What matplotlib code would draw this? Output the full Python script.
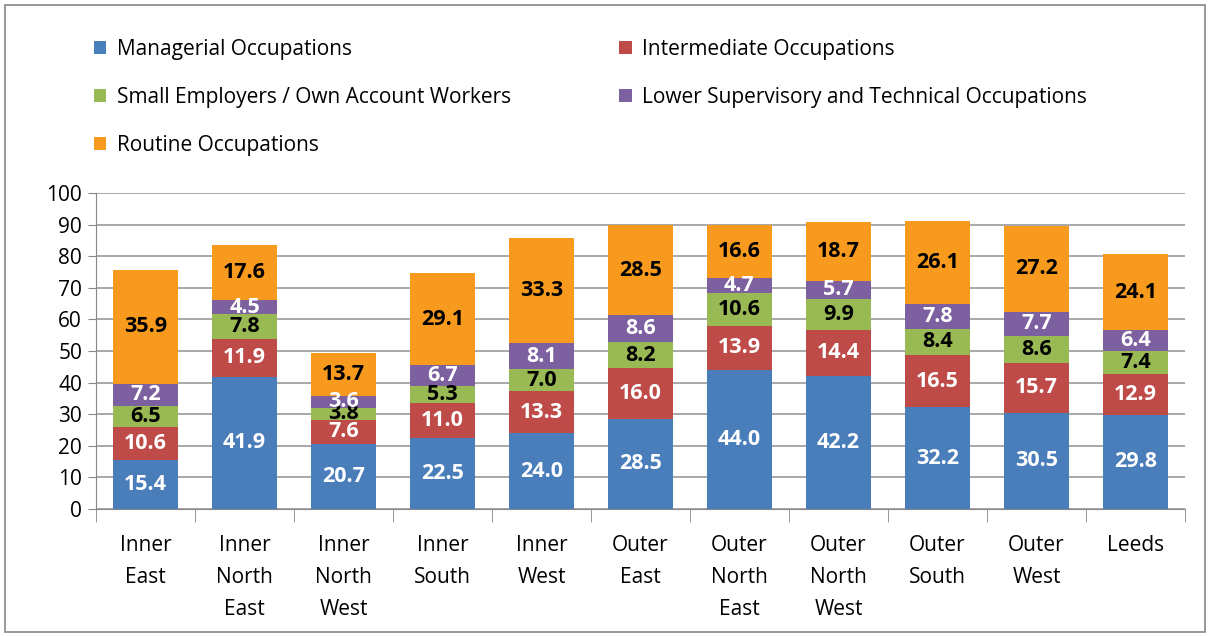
import matplotlib
matplotlib.use("Agg")
import matplotlib.pyplot as plt
from matplotlib.patches import Patch, Rectangle
import numpy as np

plt.rcParams['font.family'] = ['Open Sans', 'DejaVu Sans']

categories = ["Inner\nEast", "Inner\nNorth\nEast", "Inner\nNorth\nWest", "Inner\nSouth",
              "Inner\nWest", "Outer\nEast", "Outer\nNorth\nEast", "Outer\nNorth\nWest",
              "Outer\nSouth", "Outer\nWest", "Leeds"]
series_names = ["Managerial Occupations", "Intermediate Occupations",
                "Small Employers / Own Account Workers",
                "Lower Supervisory and Technical Occupations", "Routine Occupations"]
managerial = [15.4, 41.9, 20.7, 22.5, 24.0, 28.5, 44.0, 42.2, 32.2, 30.5, 29.8]
intermediate = [10.6, 11.9, 7.6, 11.0, 13.3, 16.0, 13.9, 14.4, 16.5, 15.7, 12.9]
small_employers = [6.5, 7.8, 3.8, 5.3, 7.0, 8.2, 10.6, 9.9, 8.4, 8.6, 7.4]
lower_supervisory = [7.2, 4.5, 3.6, 6.7, 8.1, 8.6, 4.7, 5.7, 7.8, 7.7, 6.4]
routine = [35.9, 17.6, 13.7, 29.1, 33.3, 28.5, 16.6, 18.7, 26.1, 27.2, 24.1]

series = [managerial, intermediate, small_employers, lower_supervisory, routine]
colors = ["#4A7EBB", "#BE4B48", "#98B954", "#7D60A0", "#F79A1E"]
label_colors = ["white", "white", "black", "white", "black"]

fig = plt.figure(figsize=(12.1, 6.37), dpi=100)
ax = fig.add_axes([96/1210, 1-509/637, (1185-96)/1210, (509-193)/637])

x = np.arange(len(categories))
bottom = np.zeros(len(categories))
handles = []
for vals, c, lc, name in zip(series, colors, label_colors, series_names):
    v = np.array(vals)
    ax.bar(x, v, bottom=bottom, width=0.66, color=c, zorder=3)
    for xi, b, val in zip(x, bottom, v):
        ax.text(xi, b + val/2, f"{val:.1f}", ha="center", va="center",
                color=lc, fontsize=15.5, fontweight="bold", zorder=4)
    bottom += v
    handles.append(Patch(facecolor=c, label=name))

ax.set_xlim(-0.5, len(categories)-0.5)
ax.set_ylim(0, 100)
ax.set_yticks(range(0, 101, 10))
ax.set_xticks(x)
ax.set_xticklabels(categories, fontsize=15, linespacing=1.68)
ax.tick_params(axis='y', labelsize=15, length=6, color="#888888", pad=4)
ax.tick_params(axis='x', length=0, pad=19)
ax.set_xticks(np.arange(-0.5, len(categories), 1), minor=True)
ax.tick_params(axis='x', which='minor', length=9, color="#888888")
ax.grid(axis='y', color="#999999", linewidth=1.2, zorder=0)
for s in ["top", "right"]:
    ax.spines[s].set_visible(False)
for s in ["left", "bottom"]:
    ax.spines[s].set_color("#888888")

order = [0, 2, 4, 1, 3]
fig.legend([handles[i] for i in order], [series_names[i] for i in order],
           ncol=2, loc="upper left", bbox_to_anchor=(75/1210, 1-20/637),
           frameon=False, fontsize=15, handlelength=0.6, handleheight=0.6,
           handletextpad=0.5, columnspacing=5.2, labelspacing=1.3)

fig.patches.append(Rectangle((5/1210, 5/637), 1200/1210, 627/637, transform=fig.transFigure,
                             fill=False, edgecolor="#888888", linewidth=1.2))

fig.savefig("out.png", dpi=100)
